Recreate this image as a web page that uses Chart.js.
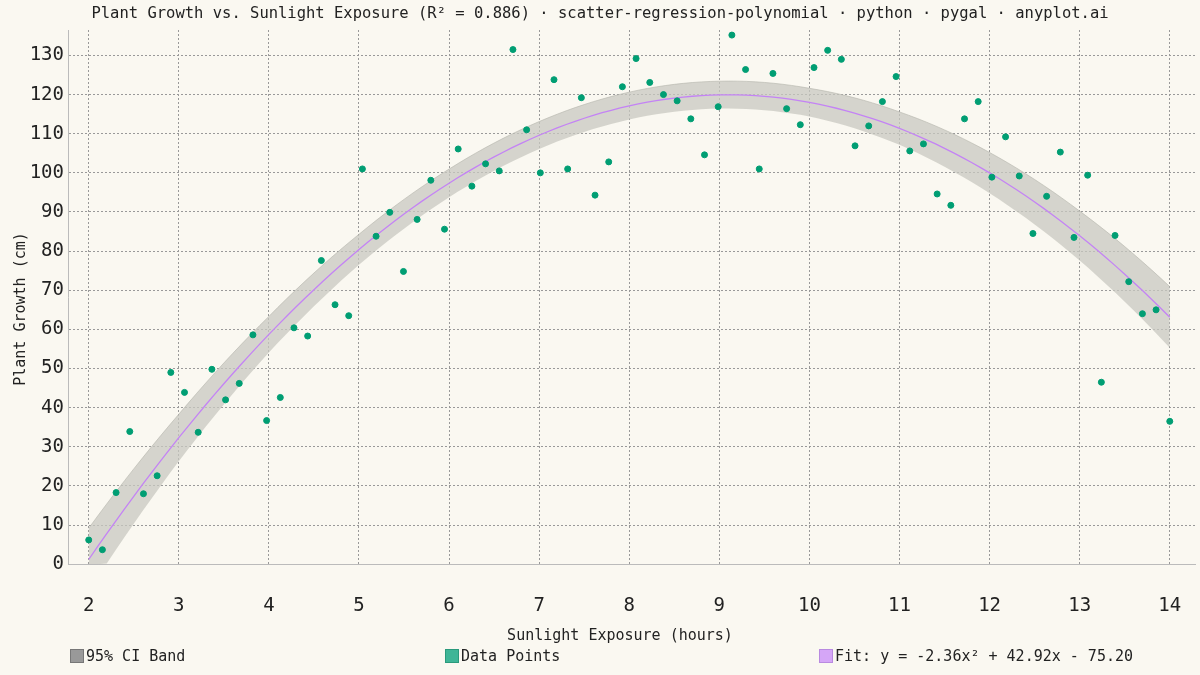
<!DOCTYPE html>
<html><head><meta charset="utf-8">
<script src="https://cdn.jsdelivr.net/npm/chart.js@4"></script>
<style>
body{margin:0;background:#faf8f1;font-family:"DejaVu Sans Mono",monospace;}
#wrap{position:relative;width:1200px;height:675px;}
#title{position:absolute;top:4px;left:0;width:1200px;text-align:center;font-size:15.5px;color:#222;}
#xl{position:absolute;top:626px;left:0;width:1240px;text-align:center;font-size:15px;color:#222;}
#yl{position:absolute;left:-70px;top:300px;width:180px;text-align:center;transform:rotate(-90deg);font-size:15px;color:#222;}
.lg{position:absolute;top:647px;font-size:15px;color:#222;display:flex;align-items:center;}
.lg span{display:inline-block;width:12px;height:12px;margin-right:2px;border:1px solid #666;}
canvas{position:absolute;left:0;top:0;}
</style></head><body>
<div id="wrap">
<canvas id="c" width="1200" height="675"></canvas>
<div id="title">Plant Growth vs. Sunlight Exposure (R² = 0.886) · scatter-regression-polynomial · python · pygal · anyplot.ai</div>
<div id="yl">Plant Growth (cm)</div>
<div id="xl">Sunlight Exposure (hours)</div>
<div class="lg" style="left:70px"><span style="background:#999;border-color:#777"></span>95% CI Band</div>
<div class="lg" style="left:445px"><span style="background:#3fb597;border-color:#2a9a7c"></span>Data Points</div>
<div class="lg" style="left:819px"><span style="background:#d5a6f7;border-color:#b98ae0"></span>Fit: y = -2.36x² + 42.92x - 75.20</div>
</div>
<script>
const growth = [6.2,3.7,18.3,33.9,18,22.6,49,43.9,33.7,49.8,42,46.2,58.6,36.7,42.6,60.4,58.3,77.6,66.3,63.5,
101,83.8,89.9,74.8,88.1,98.1,85.6,106.1,96.6,102.3,100.5,131.5,111,100,123.8,101,119.2,94.3,102.8,122,
129.2,123.1,120,118.4,113.8,104.6,116.9,135.2,126.4,101,125.4,116.4,112.3,126.9,131.3,129,106.9,112,118.2,124.6,
105.6,107.4,94.6,91.7,113.8,118.2,98.9,109.2,99.2,84.5,94,105.3,83.5,99.4,46.5,84,72.2,64,65,36.5];
const xStart = 2, xEnd = 14;
const coef = [-2.36, 42.92, -75.20];
const bandX = [2,3,4,5,6,7,8,9,10,11,12,13,14];
const bandHalf = [8,6,4.6,3.9,3.6,3.5,3.5,3.5,3.6,4.2,5.2,6.3,7.8];
const xTicks = [2,3,4,5,6,7,8,9,10,11,12,13,14];
const yTicks = [0,10,20,30,40,50,60,70,80,90,100,110,120,130];

const n = growth.length;
const pts = growth.map((v,i)=>({x:xStart+(xEnd-xStart)*i/(n-1), y:v}));
const fitF = x=>coef[0]*x*x+coef[1]*x+coef[2];
const fine=[]; for(let i=0;i<=120;i++) fine.push(xStart+(xEnd-xStart)*i/120);
const halfAt = x=>{for(let k=0;k<bandX.length-1;k++){if(x<=bandX[k+1]){const t=(x-bandX[k])/(bandX[k+1]-bandX[k]);return bandHalf[k]+t*(bandHalf[k+1]-bandHalf[k]);}}return bandHalf[bandHalf.length-1];};
const fit = fine.map(x=>({x,y:fitF(x)}));
const up = fine.map(x=>({x,y:fitF(x)+halfAt(x)}));
const lo = fine.map(x=>({x,y:Math.max(0,fitF(x)-halfAt(x))}));
const grid = {color:'#999',lineWidth:1,drawTicks:false};
new Chart(document.getElementById('c'),{
 data:{datasets:[
  {type:'line',data:lo,borderWidth:0,pointRadius:0,fill:false,order:4},
  {type:'line',data:up,borderWidth:1,pointRadius:0,fill:'-1',backgroundColor:'rgba(200,200,192,0.75)',borderColor:'rgba(180,180,172,0.6)',order:3},
  {type:'line',data:fit,borderColor:'#c483f5',borderWidth:1.3,pointRadius:0,fill:false,order:2},
  {type:'scatter',data:pts,backgroundColor:'#009e73',borderColor:'#009e73',pointRadius:3,order:1}
 ]},
 options:{responsive:false,animation:false,
  layout:{padding:{left:0,right:0,top:30,bottom:28}},
  plugins:{legend:{display:false},tooltip:{enabled:false}},
  scales:{
   x:{type:'linear',min:1.77,max:14.28,grid,border:{color:'#bbb',dash:[2,2]},
     afterBuildTicks:a=>{a.ticks=xTicks.map(v=>({value:v}));},
     afterFit:a=>{a.paddingRight=0;a.paddingLeft=0;},
     ticks:{font:{family:'DejaVu Sans Mono',size:19},color:'#222',padding:30}},
   y:{min:0,max:136.5,grid,border:{color:'#bbb',dash:[2,2]},
     afterBuildTicks:a=>{a.ticks=yTicks.map(v=>({value:v}));},
     afterFit:a=>{a.width=68;},
     ticks:{font:{family:'DejaVu Sans Mono',size:19},color:'#222',padding:4}}
  }},
 plugins:[{id:'bg',beforeDraw:c=>{const x=c.ctx;x.save();x.fillStyle='#faf8f1';x.fillRect(0,0,c.width,c.height);x.restore();}}]
});
</script></body></html>
